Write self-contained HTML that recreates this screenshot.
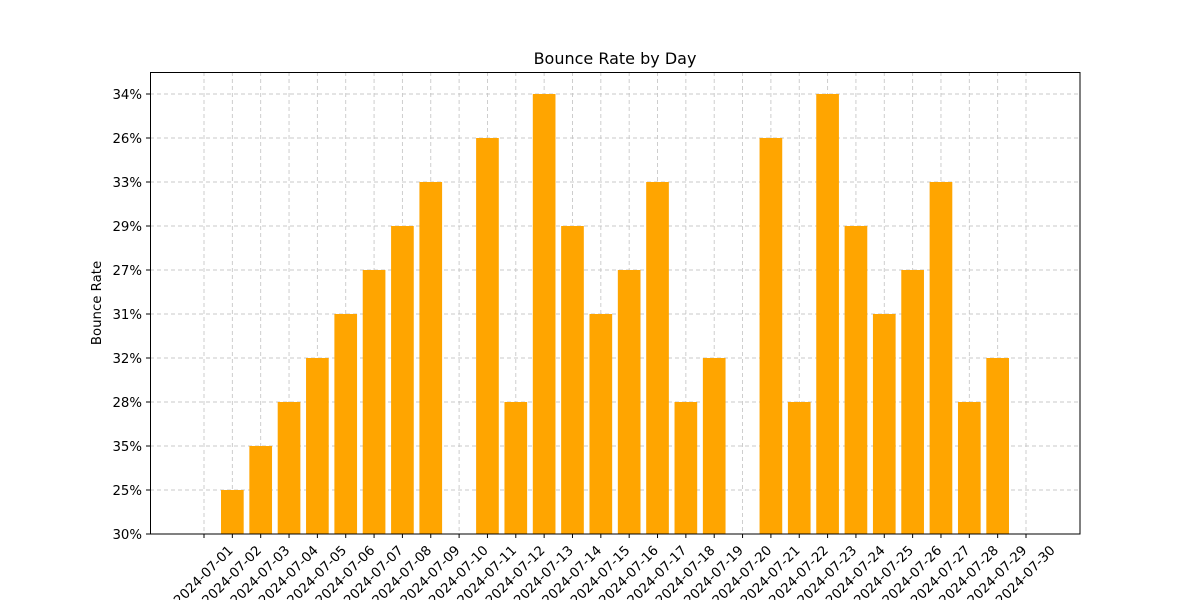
<!DOCTYPE html>
<html><head><meta charset="utf-8"><style>
html,body{margin:0;padding:0;background:#fff;}
svg text{font-family:"DejaVu Sans","Liberation Sans",sans-serif;fill:#000;}
</style></head><body>
<svg id="chart" width="1200" height="600" xmlns="http://www.w3.org/2000/svg">
<rect x="0" y="0" width="1200" height="600" fill="#fff"/>
<text x="615" y="64" font-size="16" text-anchor="middle">Bounce Rate by Day</text>
<text transform="translate(101,303) rotate(-90)" font-size="13.3" text-anchor="middle">Bounce Rate</text>
<g id="grid"></g><g id="bars"></g><g id="xticks"></g><g id="yticks"></g>
<rect x="150.5" y="72.5" width="929.5" height="461.5" fill="none" stroke="#000" stroke-width="1"/>
</svg>
<script>
const yCategories = ["30%","25%","35%","28%","32%","31%","27%","29%","33%","26%","34%"];
const days = [];
for (let d = 1; d <= 30; d++) days.push("2024-07-" + String(d).padStart(2, "0"));
const values = ["30%","25%","35%","28%","32%","31%","27%","29%","33%","30%","26%","28%","34%","29%","31%","27%","33%","28%","32%","30%","26%","28%","34%","29%","31%","27%","33%","28%","32%","30%"];

const NS = "http://www.w3.org/2000/svg";
const X0 = 204, XS = (1026 - 204) / 29;
const Y0 = 534, YS = 44;
const xPos = i => X0 + i * XS;
const yPos = i => Y0 - i * YS;
function mk(tag, attrs, parent) {
  const el = document.createElementNS(NS, tag);
  for (const k in attrs) el.setAttribute(k, attrs[k]);
  parent.appendChild(el);
  return el;
}
const grid = document.getElementById("grid"), bars = document.getElementById("bars");
const xt = document.getElementById("xticks"), yt = document.getElementById("yticks");

days.forEach((d, i) => {
  const x = xPos(i);
  const g = mk("line", {x1: x, x2: x, y1: 72, y2: 534, stroke: "#c8c8c8", "stroke-dasharray": "4,3", "stroke-width": 0.9}, grid);
  
  
  const t = mk("line", {x1: x, x2: x, y1: 534, y2: 538, stroke: "#000"}, xt);
  
  
  const lb = mk("text", {transform: `translate(${x},${576}) rotate(-45)`, "font-size": 13.3, "text-anchor": "middle", "dominant-baseline": "central"}, xt);
  lb.textContent = d;
  
  
});
yCategories.forEach((c, i) => {
  const y = yPos(i);
  const g = mk("line", {x1: 150, x2: 1080, y1: y, y2: y, stroke: "#c8c8c8", "stroke-dasharray": "4,3", "stroke-width": 0.9}, grid);
  
  
  const t = mk("line", {x1: 146, x2: 150, y1: y, y2: y, stroke: "#000"}, yt);
  
  
  const lb = mk("text", {x: 142, y: y + 5, "font-size": 13.3, "text-anchor": "end"}, yt);
  lb.textContent = c;
  
  
});
const bw = XS * 0.8;
values.forEach((v, i) => {
  const idx = yCategories.indexOf(v);
  const top = yPos(idx);
  const r = mk("rect", {x: xPos(i) - bw / 2, y: top, width: bw, height: Y0 - top, fill: "#ffa500"}, bars);
  
  
});
</script>
</body></html>
